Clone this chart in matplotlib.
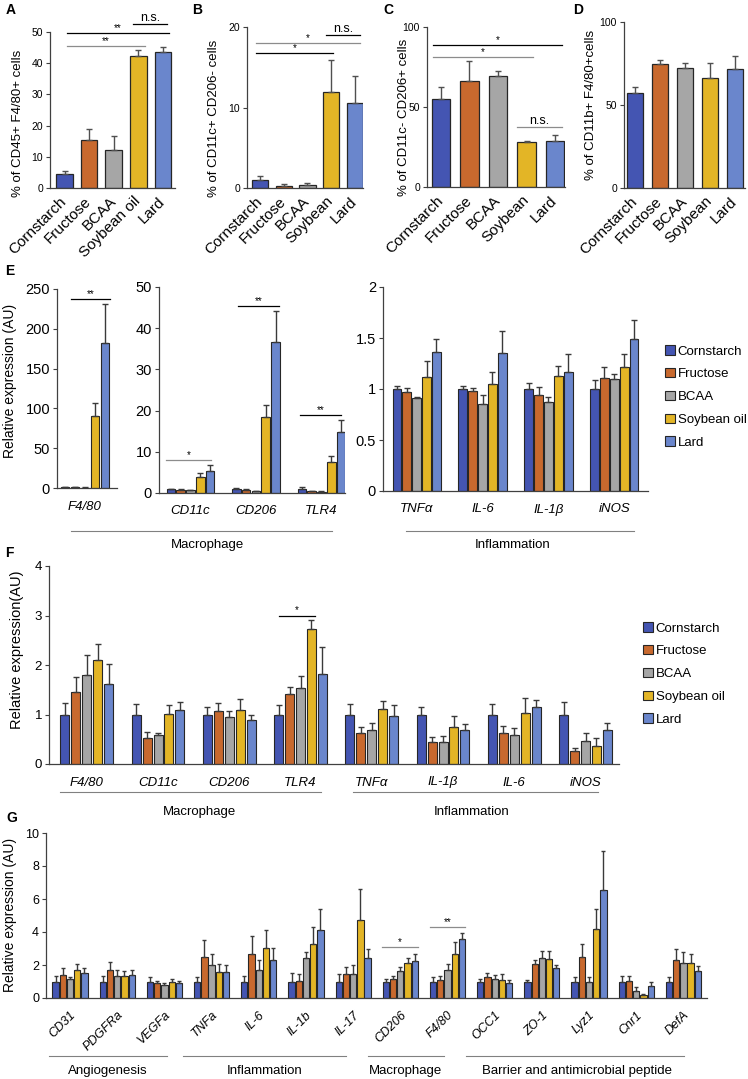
import matplotlib
matplotlib.use("Agg")
import matplotlib.pyplot as plt
import numpy as np
from matplotlib.patches import Patch
from matplotlib.ticker import FuncFormatter
from matplotlib.transforms import ScaledTranslation

plt.rcParams["font.family"] = ["Liberation Sans", "DejaVu Sans"]

W, H = 748, 1079

DIETS = ["Cornstarch", "Fructose", "BCAA", "Soybean oil", "Lard"]
COLORS = ["#4455b2", "#c8692e", "#a6a6a6", "#e3b526", "#6a86cc"]
EDGE = "#262626"

# panels A-D: flow cytometry, one bar per diet
A_LABELS = ["Cornstarch", "Fructose", "BCAA", "Soybean oil", "Lard"]
BCD_LABELS = ["Cornstarch", "Fructose", "BCAA", "Soybean", "Lard"]
A_MEAN = [4.5, 15.3, 12.3, 42.2, 43.5]
A_ERR = [0.9, 3.6, 4.5, 1.9, 1.7]
B_MEAN = [1.0, 0.3, 0.35, 11.9, 10.6]
B_ERR = [0.55, 0.15, 0.25, 4.0, 3.3]
C_MEAN = [55.0, 66.3, 69.4, 28.1, 28.5]
C_ERR = [7.2, 12.6, 3.3, 0.6, 3.7]
D_MEAN = [57.3, 74.6, 72.2, 66.3, 71.6]
D_ERR = [3.8, 2.6, 3.2, 8.9, 7.8]

# panel E (rows = diets)
E1_GENES = ["F4/80"]
E1_MEAN = [[1.0], [0.8], [0.5], [91.0], [182.5]]
E1_ERR = [[0.3], [0.2], [0.2], [16.0], [49.0]]
E2_GENES = ["CD11c", "CD206", "TLR4"]
E2_MEAN = [[0.9, 1.0, 1.0], [0.8, 0.8, 0.4], [0.7, 0.5, 0.3],
           [3.8, 18.5, 7.45], [5.4, 36.6, 14.9]]
E2_ERR = [[0.1, 0.2, 0.5], [0.1, 0.1, 0.1], [0.1, 0.1, 0.1],
          [1.1, 2.9, 1.5], [1.4, 7.6, 2.8]]
E3_GENES = ["TNFα", "IL-6", "IL-1β", "iNOS"]
E3_MEAN = [[1.0, 1.0, 1.0, 1.0], [0.97, 0.98, 0.94, 1.11],
           [0.91, 0.85, 0.87, 1.1], [1.12, 1.05, 1.13, 1.22],
           [1.36, 1.35, 1.17, 1.49]]
E3_ERR = [[0.03, 0.03, 0.06, 0.09], [0.04, 0.03, 0.08, 0.11],
          [0.01, 0.09, 0.05, 0.05], [0.15, 0.12, 0.1, 0.12],
          [0.13, 0.22, 0.17, 0.19]]

# panel F
F_GENES = ["F4/80", "CD11c", "CD206", "TLR4", "TNFα", "IL-1β", "IL-6", "iNOS"]
F_MEAN = [[1.0, 1.0, 1.0, 1.0, 1.0, 1.0, 1.0, 1.0],
          [1.45, 0.53, 1.08, 1.42, 0.63, 0.45, 0.62, 0.26],
          [1.8, 0.58, 0.95, 1.54, 0.69, 0.45, 0.58, 0.47],
          [2.1, 1.01, 1.1, 2.72, 1.11, 0.75, 1.03, 0.37],
          [1.61, 1.1, 0.88, 1.82, 0.97, 0.68, 1.16, 0.68]]
F_ERR = [[0.23, 0.22, 0.15, 0.19, 0.22, 0.16, 0.22, 0.25],
         [0.3, 0.12, 0.15, 0.13, 0.12, 0.1, 0.15, 0.07],
         [0.41, 0.05, 0.12, 0.24, 0.14, 0.12, 0.15, 0.16],
         [0.32, 0.19, 0.22, 0.19, 0.17, 0.22, 0.3, 0.16],
         [0.42, 0.15, 0.1, 0.54, 0.22, 0.13, 0.14, 0.15]]

# panel G
G_GENES = ["CD31", "PDGFRa", "VEGFa", "TNFa", "IL-6", "IL-1b", "IL-17",
           "CD206", "F4/80", "OCC1", "ZO-1", "Lyz1", "Cnr1", "DefA"]
G_MEAN = [[1.0, 1.0, 1.0, 1.0, 1.0, 1.0, 1.0, 1.0, 1.0, 1.0, 1.0, 1.0, 1.0, 1.0],
          [1.42, 1.7, 0.9, 2.46, 2.68, 1.06, 1.44, 1.18, 1.12, 1.28, 2.04, 2.46, 1.06, 2.32],
          [1.16, 1.36, 0.78, 1.98, 1.7, 2.4, 1.46, 1.66, 1.7, 1.18, 2.42, 0.94, 0.44, 2.12],
          [1.7, 1.36, 0.96, 1.6, 3.02, 3.26, 4.74, 2.14, 2.64, 1.12, 2.34, 4.16, 0.18, 2.1],
          [1.54, 1.42, 0.88, 1.58, 2.3, 4.1, 2.4, 2.24, 3.56, 0.88, 1.82, 6.54, 0.74, 1.64]]
G_ERR = [[0.34, 0.36, 0.26, 0.26, 0.34, 0.5, 0.44, 0.16, 0.26, 0.16, 0.08, 0.26, 0.34, 0.26],
         [0.38, 0.5, 0.16, 1.04, 1.08, 0.38, 0.46, 0.14, 0.22, 0.24, 0.28, 0.8, 0.3, 0.68],
         [0.12, 0.34, 0.1, 0.68, 0.6, 0.4, 0.56, 0.22, 0.38, 0.24, 0.42, 0.32, 0.22, 0.64],
         [0.36, 0.26, 0.22, 0.48, 1.08, 1.04, 1.86, 0.28, 0.76, 0.32, 0.5, 1.24, 0.04, 0.56],
         [0.28, 0.26, 0.14, 0.4, 0.74, 1.28, 0.54, 0.42, 0.36, 0.2, 0.2, 2.36, 0.26, 0.32]]


def px_axes(fig, left, top, right, bottom):
    return fig.add_axes([left / W, 1 - bottom / H, (right - left) / W, (bottom - top) / H])


def style(ax, fs):
    for s in ("top", "right"):
        ax.spines[s].set_visible(False)
    for s in ("left", "bottom"):
        ax.spines[s].set_color("#404040")
        ax.spines[s].set_linewidth(0.9)
    ax.tick_params(axis="y", length=3, width=0.8, color="#404040", labelsize=fs, pad=2)
    ax.tick_params(axis="x", length=0)
    ax.yaxis.set_major_formatter(FuncFormatter(lambda v, p: f"{v:g}"))


def shift_labels(ax, dx_px):
    # nudge rotated tick labels sideways
    for lbl in ax.get_xticklabels():
        lbl.set_transform(lbl.get_transform() + ScaledTranslation(dx_px / 100, 0, fig.dpi_scale_trans))


def simple_bars(ax, means, errs, width, labels, fs):
    x = np.arange(len(means))
    ax.bar(x, means, width, color=COLORS, edgecolor=EDGE, linewidth=0.9, zorder=2)
    ax.errorbar(x, means, yerr=[np.zeros(len(means)), errs], fmt="none",
                ecolor="#505050", elinewidth=1, capsize=2.5, capthick=1, zorder=3)
    ax.set_xticks(x)
    ax.set_xticklabels(labels, rotation=45, ha="right", va="center",
                       rotation_mode="anchor", fontsize=fs)
    ax.tick_params(axis="x", pad=8)
    shift_labels(ax, 5)


def grouped_bars(ax, means, errs, genes, pitch, width, capsize):
    x = np.arange(len(genes))
    for i in range(len(DIETS)):
        xi = x + (i - 2) * pitch
        ax.bar(xi, means[i], width, color=COLORS[i], edgecolor=EDGE,
               linewidth=0.8, zorder=2)
        ax.errorbar(xi, means[i], yerr=[np.zeros(len(genes)), errs[i]], fmt="none",
                    ecolor="#3a3a3a", elinewidth=1, capsize=capsize, capthick=1, zorder=3)
    ax.set_xticks(x)


def sig(ax, x0, x1, y, text, color="black", fs=7):
    ax.plot([x0, x1], [y, y], color=color, lw=0.9, clip_on=False, zorder=4)
    ax.text((x0 + x1) / 2, y, text, ha="center", va="bottom",
            fontsize=fs, clip_on=False)


fig = plt.figure(figsize=(W / 100, H / 100), dpi=100)
ov = fig.add_axes([0, 0, 1, 1])
ov.set_xlim(0, W)
ov.set_ylim(H, 0)
ov.axis("off")

# ---- A-D ----
axA = px_axes(fig, 50, 32, 175, 188)
simple_bars(axA, A_MEAN, A_ERR, 0.68, A_LABELS, 11)
axA.set_xlim(-0.59, 4.49)
axA.set_ylim(0, 50)
axA.set_yticks(range(0, 51, 10))
style(axA, 7.5)
sig(axA, 0.1, 4.25, 49.7, "**")
sig(axA, 0.1, 3.27, 45.4, "**", color="#8c8c8c")
sig(axA, 2.78, 4.17, 52.6, "n.s.", fs=9)

axB = px_axes(fig, 247, 27, 363, 188)
simple_bars(axB, B_MEAN, B_ERR, 0.68, BCD_LABELS, 11)
axB.set_xlim(-0.55, 4.34)
axB.set_ylim(0, 20)
axB.set_yticks([0, 10, 20])
style(axB, 7.5)
sig(axB, -0.17, 4.22, 18.0, "*", color="#8c8c8c")
sig(axB, -0.17, 3.08, 16.8, "*")
sig(axB, 2.78, 4.22, 19.05, "n.s.", fs=9)

axC = px_axes(fig, 427, 27, 565, 187)
simple_bars(axC, C_MEAN, C_ERR, 0.64, BCD_LABELS, 11)
axC.set_xlim(-0.49, 4.35)
axC.set_ylim(0, 100)
axC.set_yticks([0, 50, 100])
style(axC, 7.5)
sig(axC, -0.28, 4.25, 89.0, "*")
sig(axC, -0.28, 3.23, 81.4, "*", color="#8c8c8c")
sig(axC, 2.67, 4.25, 37.4, "n.s.", color="#8c8c8c", fs=9)

axD = px_axes(fig, 624, 22, 745, 188)
simple_bars(axD, D_MEAN, D_ERR, 0.66, BCD_LABELS, 11)
axD.set_xlim(-0.44, 4.4)
axD.set_ylim(0, 100)
axD.set_yticks([0, 50, 100])
style(axD, 7.5)

for x, y, text in [(18, 123, "% of CD45+ F4/80+ cells"), (214, 118, "% of CD11c+ CD206- cells"),
                   (404, 117, "% of CD11c- CD206+ cells"), (591, 105, "% of CD11b+ F4/80+cells")]:
    ov.text(x, y, text, rotation=90, ha="center", va="center", fontsize=9.5)

# ---- E ----
axE1 = px_axes(fig, 57, 289, 117, 488)
grouped_bars(axE1, E1_MEAN, E1_ERR, E1_GENES, 0.15, 0.13, 2)
axE1.set_xlim(-0.42, 0.48)
axE1.set_ylim(0, 250)
axE1.set_yticks(range(0, 251, 50))
style(axE1, 10.5)
sig(axE1, -0.21, 0.375, 237, "**")

axE2 = px_axes(fig, 159, 287, 345, 493)
grouped_bars(axE2, E2_MEAN, E2_ERR, E2_GENES, 0.15, 0.13, 2)
axE2.set_xlim(-0.48, 2.36)
axE2.set_ylim(0, 50)
axE2.set_yticks(range(0, 51, 10))
style(axE2, 10.5)
sig(axE2, -0.38, 0.32, 8.0, "*", color="#8c8c8c")
sig(axE2, 0.73, 1.35, 45.4, "**")
sig(axE2, 1.68, 2.3, 18.9, "**")

axE3 = px_axes(fig, 383, 287, 648, 491)
grouped_bars(axE3, E3_MEAN, E3_ERR, E3_GENES, 0.15, 0.13, 2)
axE3.set_xlim(-0.51, 3.51)
axE3.set_ylim(0, 2)
axE3.set_yticks([0, 0.5, 1, 1.5, 2])
style(axE3, 10.5)

axE1.set_xticklabels(E1_GENES, style="italic", fontsize=9.5)
axE2.set_xticklabels(E2_GENES, style="italic", fontsize=9.5)
axE3.set_xticklabels(E3_GENES, style="italic", fontsize=9.5)
for ax in (axE1, axE2, axE3):
    ax.tick_params(axis="x", pad=9)

ov.text(10, 381, "Relative expression (AU)", rotation=90, ha="center", va="center", fontsize=10)
ov.plot([71, 332], [531, 531], color="#808080", lw=0.8)
ov.text(208, 545, "Macrophage", ha="center", va="center", fontsize=9.5)
ov.plot([406, 634], [531, 531], color="#808080", lw=0.8)
ov.text(513, 545, "Inflammation", ha="center", va="center", fontsize=9.5)

handles = [Patch(facecolor=c, edgecolor=EDGE, linewidth=0.8) for c in COLORS]
fig.legend(handles, DIETS, loc="upper left", bbox_to_anchor=(660 / W, 1 - 340 / H),
           frameon=False, fontsize=9.5, handlelength=0.7, handleheight=0.7,
           handletextpad=0.25, labelspacing=0.8, borderaxespad=0)

# ---- F ----
axF = px_axes(fig, 49, 566, 619, 764)
grouped_bars(axF, F_MEAN, F_ERR, F_GENES, 0.154, 0.126, 2)
axF.set_xlim(-0.53, 7.47)
axF.set_ylim(0, 4)
axF.set_yticks(range(0, 5))
style(axF, 9.5)
axF.set_xticklabels(F_GENES, style="italic", fontsize=9.5)
axF.tick_params(axis="x", pad=9)
sig(axF, 2.7, 3.2, 3.0, "*")

ov.text(17, 650, "Relative expression(AU)", rotation=90, ha="center", va="center", fontsize=10.5)
ov.plot([60, 321], [792, 792], color="#808080", lw=0.8)
ov.text(200, 812, "Macrophage", ha="center", va="center", fontsize=9.5)
ov.plot([353, 598], [792, 792], color="#808080", lw=0.8)
ov.text(472, 812, "Inflammation", ha="center", va="center", fontsize=9.5)

fig.legend(handles, DIETS, loc="upper left", bbox_to_anchor=(638 / W, 1 - 617 / H),
           frameon=False, fontsize=9.5, handlelength=0.7, handleheight=0.7,
           handletextpad=0.25, labelspacing=0.8, borderaxespad=0)

# ---- G ----
axG = px_axes(fig, 46, 833, 707, 998)
grouped_bars(axG, G_MEAN, G_ERR, G_GENES, 0.153, 0.133, 1.6)
axG.set_xlim(-0.51, 13.5)
axG.set_ylim(0, 10)
axG.set_yticks(range(0, 11, 2))
style(axG, 9)
axG.set_xticklabels(G_GENES, style="italic", fontsize=9, rotation=45,
                    ha="right", va="center", rotation_mode="anchor")
axG.tick_params(axis="x", pad=11)
shift_labels(axG, 4)
sig(axG, 6.61, 7.37, 3.1, "*", color="#8c8c8c")
sig(axG, 7.63, 8.37, 4.3, "**", color="#8c8c8c")

ov.text(10, 915, "Relative expression (AU)", rotation=90, ha="center", va="center", fontsize=10)
for x0, x1, xc, text in [(49, 167, 108, "Angiogenesis"), (183, 346, 265, "Inflammation"),
                         (368, 444, 406, "Macrophage"),
                         (466, 684, 577, "Barrier and antimicrobial peptide")]:
    ov.plot([x0, x1], [1056, 1056], color="#808080", lw=0.8)
    ov.text(xc, 1071, text, ha="center", va="center", fontsize=9.5)

for x, y, letter in [(6, 10, "A"), (192, 10, "B"), (383, 10, "C"), (573, 10, "D"),
                     (5, 271, "E"), (5, 553, "F"), (6, 818, "G")]:
    ov.text(x, y, letter, ha="left", va="center", fontsize=10, fontweight="bold")

fig.savefig("out.png", dpi=100)
